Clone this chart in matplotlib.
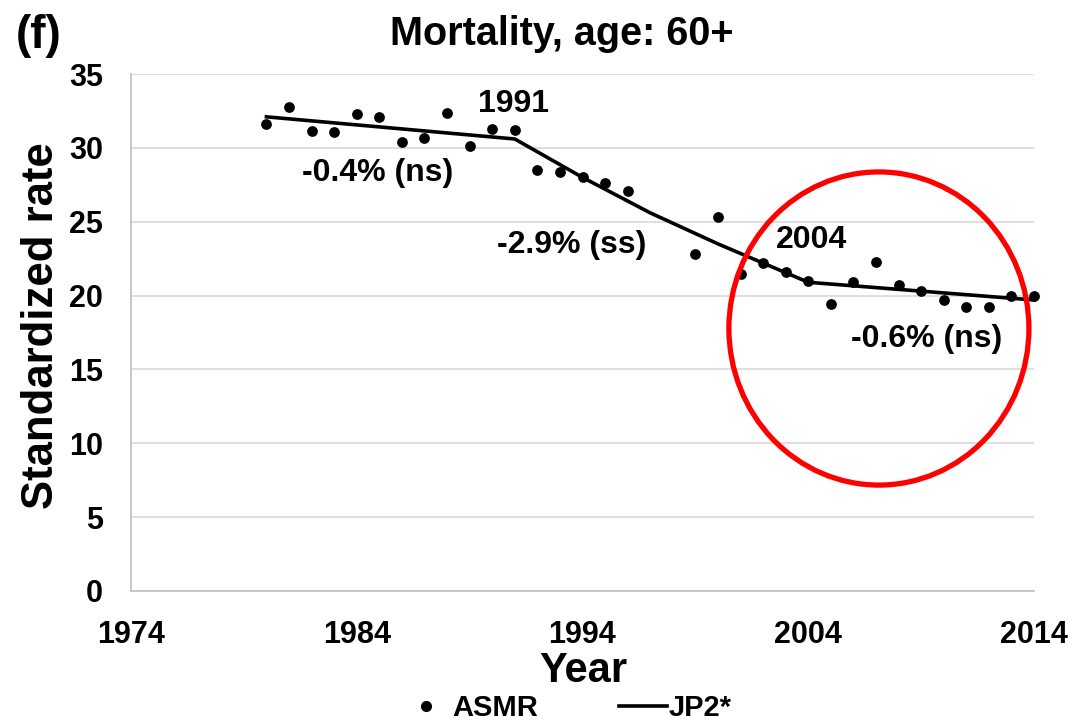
import matplotlib
matplotlib.use("Agg")
import matplotlib.pyplot as plt
from matplotlib.patches import Ellipse
from matplotlib.lines import Line2D

plt.rcParams['font.family'] = ['Liberation Sans', 'DejaVu Sans']
plt.rcParams['font.weight'] = 'bold'

# ASMR observed points
years = [1980, 1981, 1982, 1983, 1984, 1985, 1986, 1987, 1988, 1989, 1990, 1991,
         1992, 1993, 1994, 1995, 1996, 1999, 2000, 2001, 2002, 2003, 2004, 2005,
         2006, 2007, 2008, 2009, 2010, 2011, 2012, 2013, 2014]
asmr = [31.6, 32.75, 31.15, 31.1, 32.3, 32.1, 30.4, 30.7, 32.35, 30.1, 31.3, 31.2,
        28.5, 28.35, 28.0, 27.65, 27.05, 22.8, 25.3, 21.45, 22.2, 21.6, 21.0, 19.45,
        20.95, 22.3, 20.7, 20.3, 19.7, 19.25, 19.25, 20.0, 20.0]

# Joinpoint fitted line
jp_years = [1980, 1991, 1994, 1997, 2000, 2002, 2004, 2009, 2014]
jp_vals = [32.1, 30.6, 28.0, 25.6, 23.5, 22.2, 20.9, 20.3, 19.7]

x_ticks = [1974, 1984, 1994, 2004, 2014]
y_ticks = [0, 5, 10, 15, 20, 25, 30, 35]

annotations = [("1991", 1990.96, 33.0), ("-0.4% (ns)", 1984.94, 28.3),
               ("-2.9% (ss)", 1993.53, 23.43), ("2004", 2004.16, 23.76),
               ("-0.6% (ns)", 2009.25, 17.06)]

fig = plt.figure(figsize=(10.74, 7.25), dpi=100)
ax = fig.add_axes([131/1074, 1-591/725, (1034-131)/1074, (591-74)/725])

ax.set_xlim(1974, 2014)
ax.set_ylim(0, 35)
ax.set_xticks(x_ticks)
ax.set_yticks(y_ticks)
ax.tick_params(axis='both', length=0, labelsize=22)
ax.tick_params(axis='x', pad=21)
ax.tick_params(axis='y', pad=20)
for lbl in ax.get_xticklabels() + ax.get_yticklabels():
    lbl.set_fontweight('bold')

ax.grid(axis='y', color='#d9d9d9', linewidth=1.2)
ax.set_axisbelow(True)
for s in ['top', 'right']:
    ax.spines[s].set_visible(False)
for s in ['left', 'bottom']:
    ax.spines[s].set_color('#bfbfbf')
    ax.spines[s].set_linewidth(1.2)

ax.plot(jp_years, jp_vals, color='black', linewidth=2.6, zorder=3, clip_on=False)
ax.scatter(years, asmr, s=60, color='black', zorder=4, clip_on=False, linewidths=0)

for txt, xx, yy in annotations:
    ax.text(xx, yy, txt, ha='center', va='center', fontsize=23, fontweight='bold')

ell = Ellipse((2007.13, 17.77), width=13.29, height=21.2, fill=False,
              edgecolor='#ff0000', linewidth=3.8, clip_on=False, zorder=5)
ax.add_patch(ell)

fig.text(583/1074, 1-671/725, "Year", ha='center', va='center',
         fontsize=30, fontweight='bold')
fig.text(42/1074, 1-326/725, "Standardized rate", ha='center', va='center',
         rotation=90, fontsize=31.5, fontweight='bold')

fig.text(562/1074, 1-34/725, "Mortality, age: 60+", ha='center', va='center',
         fontsize=28.5, fontweight='bold')
fig.text(39/1074, 1-36/725, "(f)", ha='center', va='center',
         fontsize=33, fontweight='bold')

handles = [Line2D([], [], linestyle='none', marker='o', markersize=7, color='black'),
           Line2D([], [], color='black', linewidth=2.6)]
leg = fig.legend(handles, ["ASMR", "JP2*"], loc='center', bbox_to_anchor=(0.528, 1-708/725),
                 ncol=2, frameon=False, fontsize=21, handlelength=1.65, handletextpad=0.05,
                 columnspacing=2.8, borderpad=0.1)
for t in leg.get_texts():
    t.set_fontweight('bold')

fig.savefig("out.png", dpi=100)
